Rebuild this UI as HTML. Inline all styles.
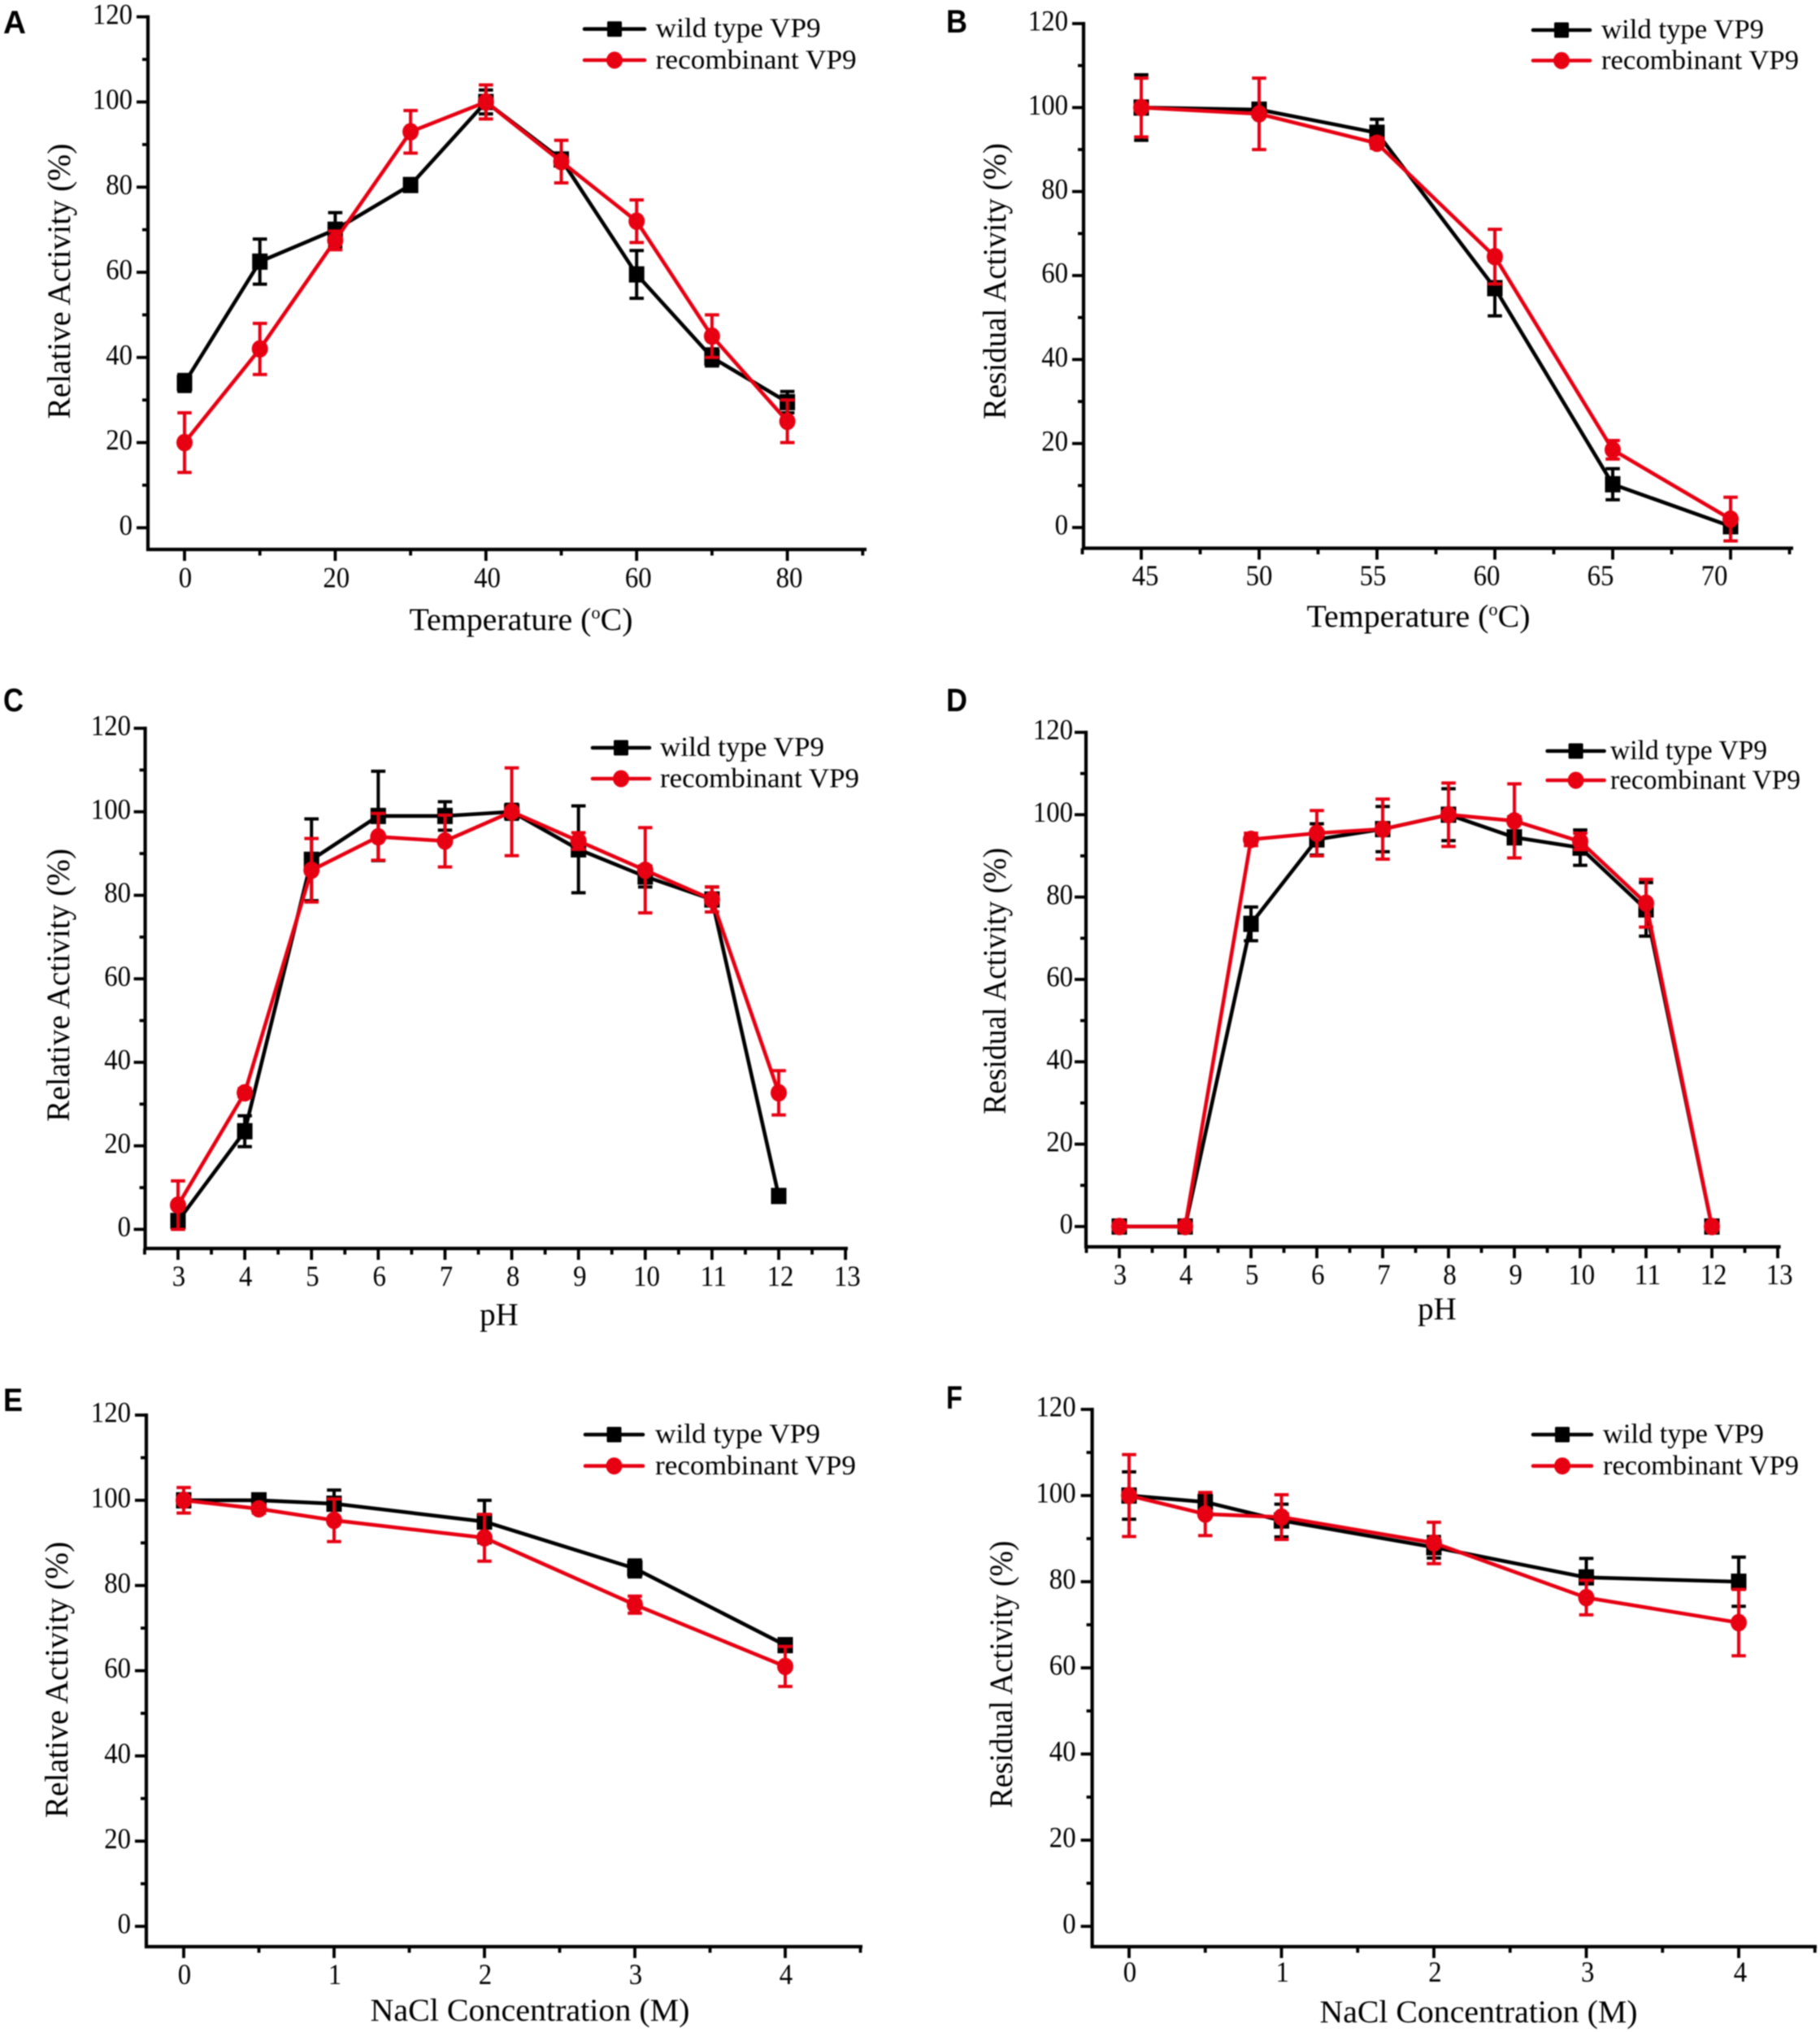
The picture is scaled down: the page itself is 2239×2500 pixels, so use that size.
<!DOCTYPE html>
<html lang="en">
<head>
<meta charset="utf-8">
<title>VP9 activity charts</title>
<style>
html,body{margin:0;padding:0;background:#fff;}
svg{display:block;filter:blur(0.7px);}
text{font-family:"Liberation Serif",serif;fill:#000;}
.letter{font-family:"Liberation Sans",sans-serif;font-weight:700;font-size:40px;fill:#000;}
</style>
</head>
<body>
<svg id="figure" xmlns="http://www.w3.org/2000/svg" width="2239" height="2500" viewBox="0 0 2239 2500"></svg>
<script>
// ---- Shared tick values ----
const yTickValues = [0,10,20,30,40,50,60,70,80,90,100,110,120];
const yTickLabels = [0,20,40,60,80,100,120];
const phTickValues = [2.5,3,3.5,4,4.5,5,5.5,6,6.5,7,7.5,8,8.5,9,9.5,10,10.5,11,11.5,12,12.5,13];
const phTickLabels = [3,4,5,6,7,8,9,10,11,12,13];
const naclTickValues = [0,0.5,1,1.5,2,2.5,3,3.5,4,4.5];
const naclTickLabels = [0,1,2,3,4];

// ---- Panel A ----
const aX = [0,10,20,30,40,50,60,70,80];
const aWild = [34,62.5,70,80.5,100,86.5,59.5,40,29.5];
const aWildErr = [2,5.3,4,0,2.8,1,5.6,2,2.5];
const aRec = [20,42,67.5,93,100,86,72,45,25];
const aRecErr = [7,6,2.2,5,4,5,5,5,5];
const aTickValues = [0,10,20,30,40,50,60,70,80,90];
const aTickLabels = [0,20,40,60,80];

// ---- Panel B ----
const bX = [45,50,55,60,65,70];
const bWild = [100,99.5,94,57,10.3,0.3];
const bWildErr = [7.8,1.5,3.2,6.6,3.7,1];
const bRec = [100,98.5,91.5,64.5,18.5,2];
const bRecErr = [7,8.5,1.2,6.5,2.2,5.2];
const bTickValues = [42.5,45,47.5,50,52.5,55,57.5,60,62.5,65,67.5,70,72.5];
const bTickLabels = [45,50,55,60,65,70];

// ---- Panel C ----
const cX = [3,4,5,6,7,8,9,10,11,12];
const cWild = [2,23.5,88.5,99,99,100,91,84.5,79,8];
const cWildErr = [1.5,3.7,9.8,10.7,3.4,1.8,10.4,2.5,3,1.5];
const cRec = [5.8,32.7,86,94,93,100,93,86,79,32.7];
const cRecErr = [5.8,1,7.6,5.6,6.2,10.5,2,10.2,3,5.3];

// ---- Panel D ----
const dX = [3,4,5,6,7,8,9,10,11,12];
const dWild = [0,0,73.5,94,96.5,100,94.5,92,77,0];
const dWildErr = [0.8,0.8,4.1,3.8,5.5,6.3,5,4.3,6.5,0.5];
const dRec = [0,0,94,95.5,96.5,100,98.5,93.5,78.5,0];
const dRecErr = [0.5,0.5,1.5,5.5,7.3,7.7,9,2,5.8,0.5];

// ---- Panel E ----
const eX = [0,0.5,1,2,3,4];
const eWild = [100,100,99.2,95,84,66];
const eWildErr = [1.5,1,3.2,5,2,1];
const eRec = [100,98,95.3,91.2,75.5,61];
const eRecErr = [3,1,5,5.5,2,4.7];

// ---- Panel F ----
const fX = [0,0.5,1,2,3,4];
const fWild = [100,98.5,94.2,88,81,80];
const fWildErr = [5.5,1.5,3.8,2.5,4.4,5.7];
const fRec = [100,95.7,95,89,76.3,70.5];
const fRecErr = [9.5,5,5.2,4.8,4,7.7];

// ---- Layout (geometry only) ----
const panels = [
 {id:'a',letter:'A',lx:4,ly:41,lw:28,x:aX,w:aWild,we:aWildErr,r:aRec,re:aRecErr,ticks:aTickValues,labels:aTickLabels,
  axisX:182,axisY:676,right:1064,y120:20.7,y0:649.3,v0:0,v1:80,p0:227,p1:968.6,lab0:228,lab1:971,
  labelBase:722.5,yLabelRight:163,yTitle:'Relative Activity (%)',yTitleX:87,yTitleY:346,yTitleLen:339,
  xTitle:'Temperature (',sup:'o',xTail:'C)',xTitleX:641,xTitleBase:775,xTitleLen:275,
  legX0:719,legX1:793,legY0:35.7,legY1:74,legText:806.7,wildLen:203,recLen:247},
 {id:'b',letter:'B',lx:1164,ly:40,lw:26,x:bX,w:bWild,we:bWildErr,r:bRec,re:bRecErr,ticks:bTickValues,labels:bTickLabels,
  axisX:1333,axisY:674.5,right:2204,y120:29,y0:649,v0:45,v1:70,p0:1404,p1:2129,lab0:1409,lab1:2109,
  labelBase:720,yLabelRight:1314,yTitle:'Residual Activity (%)',yTitleX:1238,yTitleY:346,yTitleLen:340,
  xTitle:'Temperature (',sup:'o',xTail:'C)',xTitleX:1745,xTitleBase:771,xTitleLen:275,
  legX0:1886,legX1:1956,legY0:37,legY1:74.5,legText:1970,wildLen:200,recLen:243},
 {id:'c',letter:'C',lx:4,ly:875,lw:25,x:cX,w:cWild,we:cWildErr,r:cRec,re:cRecErr,ticks:phTickValues,labels:phTickLabels,
  axisX:178.6,axisY:1536,right:1041,y120:896,y0:1512.5,v0:3,v1:12,p0:219,p1:958,lab0:220,lab1:960,
  labelBase:1582,yLabelRight:161,yTitle:'Relative Activity (%)',yTitleX:86,yTitleY:1212,yTitleLen:336,
  xTitle:'pH',sup:'',xTail:'',xTitleX:614,xTitleBase:1630,xTitleLen:0,
  legX0:729,legX1:799,legY0:920,legY1:958,legText:812,wildLen:202,recLen:245},
 {id:'d',letter:'D',lx:1164,ly:875,lw:26,x:dX,w:dWild,we:dWildErr,r:dRec,re:dRecErr,ticks:phTickValues,labels:phTickLabels,
  axisX:1336,axisY:1534,right:2188.6,y120:901,y0:1509,v0:3,v1:12,p0:1377,p1:2106,lab0:1378,lab1:2108,
  labelBase:1580,yLabelRight:1320,yTitle:'Residual Activity (%)',yTitleX:1238,yTitleY:1207,yTitleLen:328,
  xTitle:'pH',sup:'',xTail:'',xTitleX:1768,xTitleBase:1623,xTitleLen:0,
  legX0:1903.6,legX1:1973.6,legY0:924,legY1:960,legText:1981,wildLen:193,recLen:234},
 {id:'e',letter:'E',lx:4,ly:1736,lw:24,x:eX,w:eWild,we:eWildErr,r:eRec,re:eRecErr,ticks:naclTickValues,labels:naclTickLabels,
  axisX:180,axisY:2395,right:1059,y120:1741,y0:2370,v0:0,v1:4,p0:226,p1:966,lab0:227,lab1:967,
  labelBase:2441,yLabelRight:161,yTitle:'Relative Activity (%)',yTitleX:84,yTitleY:2066.6,yTitleLen:340,
  xTitle:'NaCl Concentration (M)',sup:'',xTail:'',xTitleX:652,xTitleBase:2486,xTitleLen:393,
  legX0:720,legX1:791,legY0:1765,legY1:1803.6,legText:806,wildLen:203,recLen:247},
 {id:'f',letter:'F',lx:1164,ly:1733,lw:20,x:fX,w:fWild,we:fWildErr,r:fRec,re:fRecErr,ticks:naclTickValues,labels:naclTickLabels,
  axisX:1343.6,axisY:2395,right:2233,y120:1734,y0:2370,v0:0,v1:4,p0:1389,p1:2139,lab0:1390,lab1:2141,
  labelBase:2438,yLabelRight:1323.6,yTitle:'Residual Activity (%)',yTitleX:1246,yTitleY:2060,yTitleLen:329,
  xTitle:'NaCl Concentration (M)',sup:'',xTail:'',xTitleX:1819,xTitleBase:2488,xTitleLen:391,
  legX0:1886,legX1:1958,legY0:1765,legY1:1803.6,legText:1972,wildLen:198,recLen:241}
];

const BLACK = '#000000';
const RED = '#e60012';
const NS = 'http://www.w3.org/2000/svg';
const root = document.getElementById('figure');

function make(parent, tag, attrs, txt) {
  const el = document.createElementNS(NS, tag);
  for (const k in attrs) el.setAttribute(k, attrs[k]);
  if (txt !== undefined) el.textContent = txt;
  parent.appendChild(el);
  return el;
}

function drawSeries(g, p, xs, vals, errs, color, kind, sx, sy) {
  const sg = make(g, 'g', {});
  
  
  xs.forEach(function (v, i) {
    const px = sx(v);
    const top = sy(vals[i] + errs[i]);
    const bot = sy(vals[i] - errs[i]);
    const bar = make(sg, 'path', {
      d: 'M' + px + ' ' + top + 'V' + bot + 'M' + (px - 8.8) + ' ' + top + 'H' + (px + 8.8) + 'M' + (px - 8.8) + ' ' + bot + 'H' + (px + 8.8),
      fill: 'none', stroke: color, 'stroke-width': 4
    });
    
    
  });
  const pts = xs.map(function (v, i) { return sx(v) + ',' + sy(vals[i]); }).join(' ');
  const line = make(sg, 'polyline', {points: pts, fill: 'none', stroke: color, 'stroke-width': 4.6, 'stroke-linejoin': 'round'});
  
  
  xs.forEach(function (v, i) {
    let m;
    if (kind === 'wild-type') {
      m = make(sg, 'rect', {x: sx(v) - 9.5, y: sy(vals[i]) - 10, width: 19, height: 20, fill: color});
    } else {
      m = make(sg, 'ellipse', {cx: sx(v), cy: sy(vals[i]), rx: 10, ry: 10.8, fill: color});
    }
    
    
  });
}

function drawPanel(p) {
  const g = make(root, 'g', {});
  
  

  const sx = function (v) { return p.p0 + (v - p.v0) * (p.p1 - p.p0) / (p.v1 - p.v0); };
  const sy = function (v) { return p.y0 + v * (p.y120 - p.y0) / 120; };
  const lx = function (v) { return p.lab0 + (v - p.v0) * (p.lab1 - p.lab0) / (p.v1 - p.v0); };

  const letter = make(g, 'text', {x: p.lx, y: p.ly, class: 'letter', textLength: p.lw, lengthAdjust: 'spacingAndGlyphs'}, p.letter);
  
  

  const yAxis = make(g, 'line', {x1: p.axisX, x2: p.axisX, y1: p.y120 - 2, y2: p.axisY + 2, stroke: '#000', 'stroke-width': 4.2});
  
  
  const xAxis = make(g, 'line', {x1: p.axisX - 2, x2: p.right + 2, y1: p.axisY, y2: p.axisY, stroke: '#000', 'stroke-width': 4.2});
  
  

  yTickValues.forEach(function (v) {
    const major = v % 20 === 0;
    const t = make(g, 'line', {x1: p.axisX - (major ? 14 : 7), x2: p.axisX, y1: sy(v), y2: sy(v), stroke: '#000', 'stroke-width': 3.8});
    
    
  });
  yTickLabels.forEach(function (v) {
    const s = String(v);
    const t = make(g, 'text', {x: p.yLabelRight, y: sy(v) + 8.6, 'text-anchor': 'end', 'font-size': 35.5, textLength: s.length * 16.4, lengthAdjust: 'spacingAndGlyphs'}, s);
    
    
  });
  p.ticks.forEach(function (v) {
    const major = p.labels.indexOf(v) >= 0;
    const t = make(g, 'line', {x1: sx(v), x2: sx(v), y1: p.axisY, y2: p.axisY + (major ? 14 : 7.5), stroke: '#000', 'stroke-width': 3.8});
    
    
  });
  p.labels.forEach(function (v) {
    const s = String(v);
    const t = make(g, 'text', {x: lx(v), y: p.labelBase, 'text-anchor': 'middle', 'font-size': 35.5, textLength: s.length * 16.4, lengthAdjust: 'spacingAndGlyphs'}, s);
    
    
  });

  const yt = make(g, 'text', {
    transform: 'translate(' + (p.yTitleX - 1) + ' ' + p.yTitleY + ') rotate(-90)',
    'text-anchor': 'middle', 'font-size': 40, textLength: p.yTitleLen, lengthAdjust: 'spacingAndGlyphs'
  }, p.yTitle);
  
  

  const xtAttrs = {x: p.xTitleX, y: p.xTitleBase, 'text-anchor': 'middle', 'font-size': 39};
  if (p.xTitleLen) { xtAttrs.textLength = p.xTitleLen; xtAttrs.lengthAdjust = 'spacingAndGlyphs'; }
  const xt = make(g, 'text', xtAttrs);
  
  
  make(xt, 'tspan', {}, p.xTitle);
  if (p.sup) {
    make(xt, 'tspan', {'font-size': 22, dy: -14}, p.sup);
    make(xt, 'tspan', {dy: 14}, p.xTail);
  }

  drawSeries(g, p, p.x, p.w, p.we, BLACK, 'wild-type', sx, sy);
  drawSeries(g, p, p.x, p.r, p.re, RED, 'recombinant', sx, sy);

  const mid = (p.legX0 + p.legX1) / 2;
  const lg = make(g, 'g', {});
  
  

  const l1 = make(lg, 'line', {x1: p.legX0, x2: p.legX1, y1: p.legY0, y2: p.legY0, stroke: BLACK, 'stroke-width': 4.6, 'stroke-linecap': 'round'});
  
  
  const m1 = make(lg, 'rect', {x: mid - 9, y: p.legY0 - 9.5, width: 18, height: 19, rx: 1.5, fill: BLACK});
  
  
  const t1 = make(lg, 'text', {x: p.legText, y: p.legY0 + 10, 'font-size': 34, textLength: p.wildLen, lengthAdjust: 'spacingAndGlyphs'}, 'wild type VP9');
  
  

  const l2 = make(lg, 'line', {x1: p.legX0, x2: p.legX1, y1: p.legY1, y2: p.legY1, stroke: RED, 'stroke-width': 4.6, 'stroke-linecap': 'round'});
  
  
  const m2 = make(lg, 'ellipse', {cx: mid, cy: p.legY1, rx: 10, ry: 10.5, fill: RED});
  
  
  const t2 = make(lg, 'text', {x: p.legText, y: p.legY1 + 10.5, 'font-size': 34, textLength: p.recLen, lengthAdjust: 'spacingAndGlyphs'}, 'recombinant VP9');
  
  
}

panels.forEach(drawPanel);
</script>
</body>
</html>
